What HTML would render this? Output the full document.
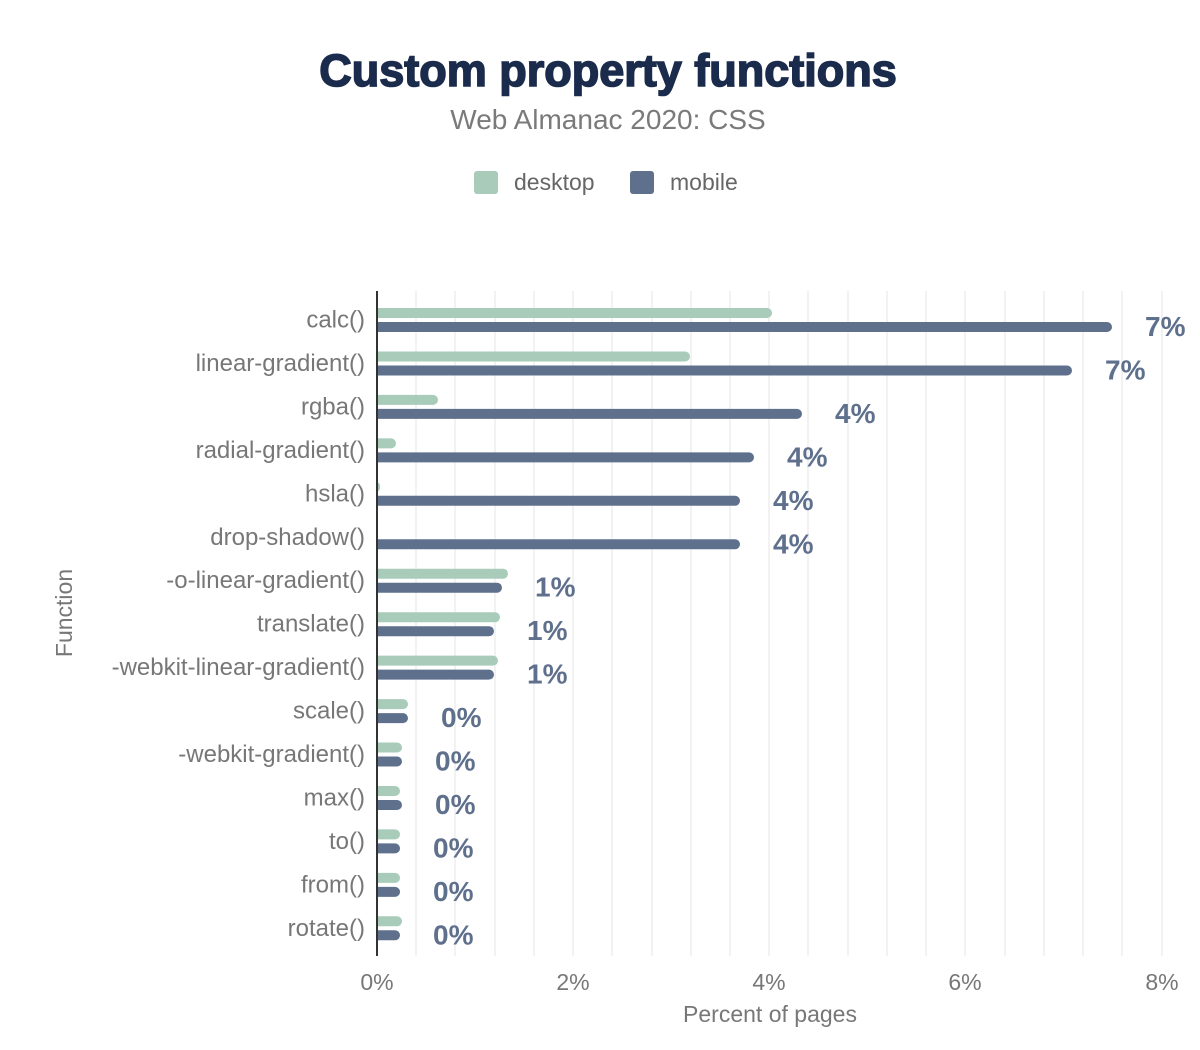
<!DOCTYPE html>
<html><head><meta charset="utf-8"><style>
body{margin:0;background:#fff;}
svg{display:block;font-family:"Liberation Sans",Arial,sans-serif;}
</style></head><body>
<svg width="1200" height="1050" xmlns="http://www.w3.org/2000/svg">
<text x="608" y="86" text-anchor="middle" font-size="45" font-weight="900" fill="#1a2b4c" stroke="#1a2b4c" stroke-width="1.6">Custom property functions</text>
<text x="608" y="129" text-anchor="middle" font-size="28" fill="#7a7a7a">Web Almanac 2020: CSS</text>
<rect x="474" y="171" width="24" height="23" rx="3" fill="#a8cbba"/>
<text x="514" y="190" font-size="23" fill="#666">desktop</text>
<rect x="630" y="171" width="24" height="23" rx="3" fill="#5f708d"/>
<text x="670" y="190" font-size="23" fill="#666">mobile</text>
<g stroke="#f2f2f2" stroke-width="2">
<line x1="416" y1="291" x2="416" y2="956"/><line x1="455" y1="291" x2="455" y2="956"/><line x1="495" y1="291" x2="495" y2="956"/><line x1="534" y1="291" x2="534" y2="956"/><line x1="573" y1="291" x2="573" y2="956"/><line x1="612" y1="291" x2="612" y2="956"/><line x1="652" y1="291" x2="652" y2="956"/><line x1="691" y1="291" x2="691" y2="956"/><line x1="730" y1="291" x2="730" y2="956"/><line x1="769" y1="291" x2="769" y2="956"/><line x1="808" y1="291" x2="808" y2="956"/><line x1="848" y1="291" x2="848" y2="956"/><line x1="887" y1="291" x2="887" y2="956"/><line x1="926" y1="291" x2="926" y2="956"/><line x1="965" y1="291" x2="965" y2="956"/><line x1="1005" y1="291" x2="1005" y2="956"/><line x1="1044" y1="291" x2="1044" y2="956"/><line x1="1083" y1="291" x2="1083" y2="956"/><line x1="1122" y1="291" x2="1122" y2="956"/><line x1="1162" y1="291" x2="1162" y2="956"/>
</g>
<g font-size="23" fill="#777" text-anchor="middle">
<text x="377" y="990">0%</text><text x="573" y="990">2%</text><text x="769" y="990">4%</text><text x="965" y="990">6%</text><text x="1162" y="990">8%</text>
</g>
<text x="770" y="1022" text-anchor="middle" font-size="23" fill="#777">Percent of pages</text>
<text transform="translate(72,613) rotate(-90)" text-anchor="middle" font-size="23" fill="#777">Function</text>
<g fill="#a8cbba">
<rect x="372" y="308" width="400" height="10" rx="5"/>
<rect x="372" y="351.5" width="318" height="10" rx="5"/>
<rect x="372" y="394.9" width="66" height="10" rx="5"/>
<rect x="372" y="438.4" width="24" height="10" rx="5"/>
<rect x="372" y="481.8" width="8" height="10" rx="4"/>
<rect x="372" y="568.7" width="136" height="10" rx="5"/>
<rect x="372" y="612.2" width="128" height="10" rx="5"/>
<rect x="372" y="655.6" width="126" height="10" rx="5"/>
<rect x="372" y="699.1" width="36" height="10" rx="5"/>
<rect x="372" y="742.5" width="30" height="10" rx="5"/>
<rect x="372" y="786" width="28" height="10" rx="5"/>
<rect x="372" y="829.4" width="28" height="10" rx="5"/>
<rect x="372" y="872.9" width="28" height="10" rx="5"/>
<rect x="372" y="916.3" width="30" height="10" rx="5"/>
</g>
<g fill="#5f708d">
<rect x="372" y="322" width="740" height="10" rx="5"/>
<rect x="372" y="365.5" width="700" height="10" rx="5"/>
<rect x="372" y="408.9" width="430" height="10" rx="5"/>
<rect x="372" y="452.4" width="382" height="10" rx="5"/>
<rect x="372" y="495.8" width="368" height="10" rx="5"/>
<rect x="372" y="539.3" width="368" height="10" rx="5"/>
<rect x="372" y="582.7" width="130" height="10" rx="5"/>
<rect x="372" y="626.2" width="122" height="10" rx="5"/>
<rect x="372" y="669.6" width="122" height="10" rx="5"/>
<rect x="372" y="713.1" width="36" height="10" rx="5"/>
<rect x="372" y="756.5" width="30" height="10" rx="5"/>
<rect x="372" y="800" width="30" height="10" rx="5"/>
<rect x="372" y="843.4" width="28" height="10" rx="5"/>
<rect x="372" y="886.9" width="28" height="10" rx="5"/>
<rect x="372" y="930.3" width="28" height="10" rx="5"/>
</g>
<rect x="366" y="291" width="10" height="665" fill="#fff"/>
<g font-size="24" fill="#777" text-anchor="end">
<text x="365" y="327.5">calc()</text>
<text x="365" y="371">linear-gradient()</text>
<text x="365" y="414.4">rgba()</text>
<text x="365" y="457.9">radial-gradient()</text>
<text x="365" y="501.3">hsla()</text>
<text x="365" y="544.8">drop-shadow()</text>
<text x="365" y="588.2">-o-linear-gradient()</text>
<text x="365" y="631.7">translate()</text>
<text x="365" y="675.1">-webkit-linear-gradient()</text>
<text x="365" y="718.5">scale()</text>
<text x="365" y="762">-webkit-gradient()</text>
<text x="365" y="805.5">max()</text>
<text x="365" y="848.9">to()</text>
<text x="365" y="892.4">from()</text>
<text x="365" y="935.8">rotate()</text>
</g>
<g font-size="28" font-weight="bold" fill="#5f708d">
<text x="1145" y="336">7%</text>
<text x="1105" y="379.5">7%</text>
<text x="835" y="422.9">4%</text>
<text x="787" y="466.4">4%</text>
<text x="773" y="509.8">4%</text>
<text x="773" y="553.3">4%</text>
<text x="535" y="596.7">1%</text>
<text x="527" y="640.2">1%</text>
<text x="527" y="683.6">1%</text>
<text x="441" y="727.1">0%</text>
<text x="435" y="770.5">0%</text>
<text x="435" y="814">0%</text>
<text x="433" y="857.4">0%</text>
<text x="433" y="900.9">0%</text>
<text x="433" y="944.3">0%</text>
</g>
<line x1="377" y1="291" x2="377" y2="956" stroke="#333" stroke-width="2"/>
</svg>
</body></html>
